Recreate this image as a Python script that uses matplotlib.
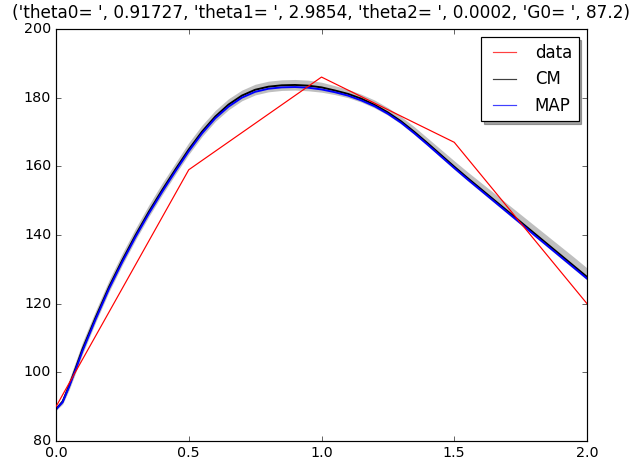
import matplotlib
matplotlib.use("Agg")
import matplotlib.pyplot as plt

plt.style.use("classic")

# observed data
data_t = [0.0, 0.5, 1.0, 1.5, 2.0]
data_G = [90, 159, 186, 167, 120]

# model curves
t_fit = [0.0, 0.025, 0.05, 0.075, 0.1, 0.15, 0.2, 0.25, 0.3, 0.35, 0.4,
         0.45, 0.5, 0.55, 0.6, 0.65, 0.7, 0.75, 0.8, 0.85, 0.9, 0.95, 1.0,
         1.05, 1.1, 1.15, 1.2, 1.25, 1.3, 1.35, 1.4, 1.45, 1.5, 1.55, 1.6,
         1.65, 1.7, 1.75, 1.8, 1.85, 1.9, 1.95, 2.0]
G_map = [89.2, 91.3, 95.9, 101.0, 106.3, 115.6, 124.4, 132.2, 139.5, 146.3,
         152.6, 158.6, 164.4, 169.6, 174.0, 177.4, 180.0, 181.7, 182.6, 183.0,
         183.1, 182.9, 182.4, 181.6, 180.6, 179.2, 177.5, 175.3, 172.7, 169.6,
         166.3, 162.9, 159.5, 156.2, 153.0, 149.8, 146.6, 143.4, 140.1, 136.9,
         133.7, 130.5, 127.3]
G_cm = [89.3, 91.5, 96.2, 101.4, 106.8, 116.1, 124.9, 132.7, 140.0, 146.8,
        153.1, 159.1, 164.9, 170.1, 174.5, 178.0, 180.6, 182.3, 183.2, 183.6,
        183.7, 183.5, 183.0, 182.1, 181.1, 179.7, 177.9, 175.7, 173.1, 170.0,
        166.7, 163.3, 159.9, 156.6, 153.4, 150.2, 147.0, 143.8, 140.6, 137.4,
        134.2, 131.0, 127.8]
# spread of the posterior samples
G_lo = [88.9, 90.7, 95.0, 100.1, 105.4, 114.7, 123.5, 131.3, 138.6, 145.4,
        151.7, 157.7, 163.5, 168.7, 173.1, 176.5, 179.1, 180.8, 181.7, 182.1,
        182.2, 182.0, 181.6, 180.9, 180.0, 178.7, 177.0, 174.9, 172.3, 169.2,
        165.9, 162.5, 159.1, 155.8, 152.6, 149.4, 146.2, 143.0, 139.7, 136.5,
        133.3, 130.1, 126.9]
G_hi = [89.7, 92.6, 98.0, 103.4, 108.8, 118.1, 126.9, 134.7, 142.0, 148.8,
        155.1, 161.0, 166.9, 172.0, 176.3, 179.7, 182.2, 183.9, 184.8, 185.2,
        185.3, 185.1, 184.5, 183.5, 182.4, 181.0, 179.3, 177.1, 174.5, 171.5,
        168.2, 164.9, 161.6, 158.4, 155.3, 152.2, 149.1, 146.0, 142.9, 139.8,
        136.7, 133.6, 130.4]

title = "('theta0= ', 0.91727, 'theta1= ', 2.9854, 'theta2= ', 0.0002, 'G0= ', 87.2)"

DPI = 85.8
fig = plt.figure(figsize=(631 / DPI, 466 / DPI), dpi=DPI)
ax = fig.add_axes([56 / 631, 25 / 466, 531 / 631, 412 / 466])

ax.fill_between(t_fit, G_lo, G_hi, color="0.75", lw=0)
ax.plot(data_t, data_G, "r-", lw=1, label="data", zorder=4)
ax.plot(t_fit, G_cm, "k-", lw=1.6, label="CM")
ax.plot(t_fit, G_map, "b-", lw=1.6, label="MAP")

ax.set_xlim(0, 2.0)
ax.set_ylim(80, 200)
ax.set_title(title, fontsize=14.2, pad=9)

leg = ax.legend(loc="upper right", shadow=True, fontsize=14)
for h in leg.legend_handles:
    h.set_linewidth(1)
    h.set_alpha(0.75)

fig.savefig("out.png", dpi=DPI)
